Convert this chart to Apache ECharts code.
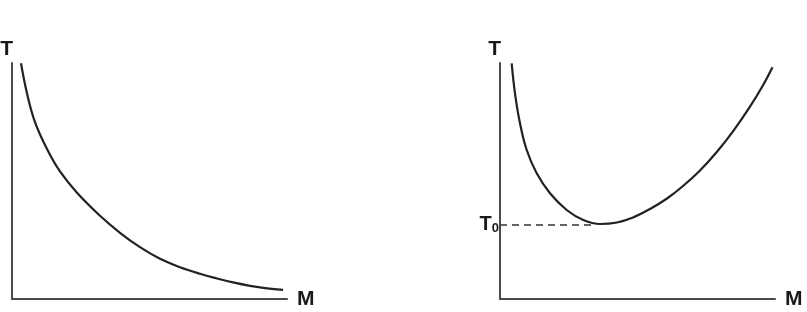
<!DOCTYPE html>
<html>
<head>
<meta charset="utf-8">
<script src="https://cdn.jsdelivr.net/npm/echarts@6/dist/echarts.min.js"></script>
<style>
html,body{margin:0;padding:0;background:#fff;}
#chart{width:807px;height:312px;}
</style>
</head>
<body>
<div id="chart"></div>
<script>
// Left panel: T falls as M grows
const leftM = [3.27, 5.45, 8.36, 12.73, 17.45, 23.64, 32.0, 39.27, 46.55, 53.82, 61.09, 68.36, 74.55, 80.36, 86.55, 92.73, 98.55];
const leftT = [99.87, 87.16, 74.96, 63.56, 54.03, 45.0, 35.25, 28.05, 21.95, 17.03, 13.47, 10.68, 8.69, 7.03, 5.59, 4.53, 3.86];
// Right panel: U-shaped T over M, minimum T0
const rightM = [4.25, 5.45, 7.27, 9.71, 13.35, 18.18, 24.25, 30.29, 36.36, 42.55, 48.36, 54.55, 60.73, 66.55, 72.73, 78.91, 84.73, 90.91, 95.64, 99.09];
const rightT = [99.87, 87.16, 74.45, 63.14, 53.26, 44.79, 37.71, 33.47, 31.78, 32.42, 34.53, 38.14, 42.58, 47.88, 54.49, 62.42, 71.02, 81.48, 90.55, 98.18];
const T0 = 31.5;
const T0_end_M = 33.5;
const axisNames = { x: 'M', y: 'T' };

const FONT = "'Liberation Sans', Arial, sans-serif";

function pairs(xs, ys) { return xs.map((x, i) => [x, ys[i]]); }

function xAx(gi) {
  return {
    gridIndex: gi, type: 'value', min: 0, max: 100,
    axisLine: { show: true, onZero: false, lineStyle: { color: '#4a4a4a', width: 2 } },
    axisTick: { show: false }, axisLabel: { show: false }, splitLine: { show: false },
    name: axisNames.x, nameLocation: 'end', nameGap: 10,
    nameTextStyle: { fontFamily: FONT, fontSize: 21, fontWeight: 'bold', color: '#1a1a1a', padding: [0, 0, 15, 0] }
  };
}
function yAx(gi) {
  return {
    gridIndex: gi, type: 'value', min: 0, max: 100,
    axisLine: { show: true, onZero: false, lineStyle: { color: '#4a4a4a', width: 2 } },
    axisTick: { show: false }, axisLabel: { show: false }, splitLine: { show: false },
    name: axisNames.y, nameLocation: 'end', nameGap: 3,
    nameTextStyle: { fontFamily: FONT, fontSize: 21, fontWeight: 'bold', color: '#1a1a1a', align: 'right', padding: [0, -1, 0, 0] }
  };
}

const chart = echarts.init(document.getElementById('chart'), null, { renderer: 'canvas' });
chart.setOption({
  animation: false,
  backgroundColor: '#fff',
  grid: [
    { left: 12, top: 63, width: 275, height: 236, outerBoundsMode: 'none' },
    { left: 500, top: 63, width: 275, height: 236, outerBoundsMode: 'none' }
  ],
  xAxis: [xAx(0), xAx(1)],
  yAxis: [yAx(0), yAx(1)],
  series: [
    {
      type: 'line', xAxisIndex: 0, yAxisIndex: 0, data: pairs(leftM, leftT),
      smooth: 0.4, showSymbol: false, lineStyle: { color: '#222', width: 2.2 }
    },
    {
      type: 'line', xAxisIndex: 1, yAxisIndex: 1, data: pairs(rightM, rightT),
      smooth: 0.4, showSymbol: false, lineStyle: { color: '#222', width: 2.2 },
      markLine: {
        silent: true, symbol: ['none', 'none'],
        lineStyle: { type: [7, 5], color: '#333', width: 1.5 },
        label: {
          show: true, position: 'start', distance: 1,
          formatter: '{a|T}{b|0}',
          rich: {
            a: { fontFamily: FONT, fontSize: 20, fontWeight: 'bold', color: '#1a1a1a' },
            b: { fontFamily: FONT, fontSize: 13, fontWeight: 'bold', color: '#1a1a1a', verticalAlign: 'bottom', padding: [6, 0, 0, 0] }
          }
        },
        data: [[{ coord: [0, T0] }, { coord: [T0_end_M, T0] }]]
      }
    }
  ]
});
</script>
</body>
</html>
